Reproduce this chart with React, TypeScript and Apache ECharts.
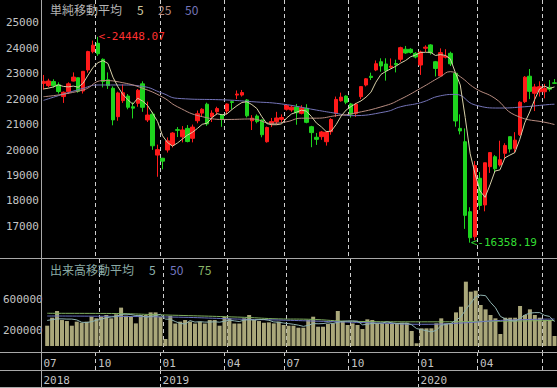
import React, { useEffect, useRef } from "react";
import * as echarts from "echarts";

// Weekly bars (dated by the week's last trading day)
const weekDates = (
  "2018-07-20 2018-07-27 2018-08-03 2018-08-10 2018-08-17 2018-08-24 2018-08-31 2018-09-07 2018-09-14 2018-09-21 " +
  "2018-09-28 2018-10-05 2018-10-12 2018-10-19 2018-10-26 2018-11-02 2018-11-09 2018-11-16 2018-11-22 2018-11-30 " +
  "2018-12-07 2018-12-14 2018-12-21 2018-12-28 2019-01-04 2019-01-11 2019-01-18 2019-01-25 2019-02-01 2019-02-08 " +
  "2019-02-15 2019-02-22 2019-03-01 2019-03-08 2019-03-15 2019-03-22 2019-03-29 2019-04-05 2019-04-12 2019-04-19 " +
  "2019-04-26 2019-05-10 2019-05-17 2019-05-24 2019-05-31 2019-06-07 2019-06-14 2019-06-21 2019-06-28 2019-07-05 " +
  "2019-07-12 2019-07-19 2019-07-26 2019-08-02 2019-08-09 2019-08-16 2019-08-23 2019-08-30 2019-09-06 2019-09-13 " +
  "2019-09-20 2019-09-27 2019-10-04 2019-10-11 2019-10-18 2019-10-25 2019-11-01 2019-11-08 2019-11-15 2019-11-22 " +
  "2019-11-29 2019-12-06 2019-12-13 2019-12-20 2019-12-27 2019-12-30 2020-01-10 2020-01-17 2020-01-24 2020-01-31 " +
  "2020-02-07 2020-02-14 2020-02-21 2020-02-28 2020-03-06 2020-03-13 2020-03-19 2020-03-27 2020-04-03 2020-04-10 " +
  "2020-04-17 2020-04-24 2020-05-01 2020-05-08 2020-05-15 2020-05-22 2020-05-29 2020-06-05 2020-06-12 2020-06-19 " +
  "2020-06-26 2020-07-03 2020-07-10 2020-07-17"
).split(" ");

const opens = [
  22620, 22530, 22690, 22560, 22100, 22290, 22710, 22840, 22320, 23145,
  23865, 24195, 23565, 22760, 22425, 21310, 21940, 22120, 21700, 21835,
  22600, 21180, 21410, 19800, 19675, 20000, 20195, 20800, 20520, 20850,
  20460, 21150, 21450, 21800, 21310, 21505, 21375, 21530, 21900, 22160,
  22160, 21965, 21150, 21335, 21180, 20325, 21050, 21110, 21205, 21600,
  21575, 21690, 21440, 21640, 20915, 20500, 20525, 20325, 20720, 21440,
  21935, 22120, 21810, 21440, 22095, 22555, 22900, 23145, 23470, 23380,
  23250, 23400, 23565, 23960, 23960, 23800, 23340, 24000, 24130, 23470,
  22910, 23650, 23800, 23015, 20850, 20325, 17575, 16590, 18890, 17840,
  19345, 19735, 19410, 19870, 20525, 20065, 20600, 21900, 22900, 22230,
  22290, 22290, 22465, 22640,
];
const closes = [
  22697, 22712, 22525, 22298, 22270, 22601, 22865, 22307, 23094, 23869,
  24120, 23783, 22694, 22532, 21184, 22243, 22250, 21680, 21646, 22351,
  21679, 21374, 20166, 20014, 19561, 20359, 20666, 20773, 20788, 20333,
  20900, 21425, 21602, 21025, 21450, 21627, 21205, 21807, 21870, 22200,
  22258, 21344, 21250, 21117, 20601, 20884, 21116, 21258, 21275, 21746,
  21685, 21466, 21658, 21087, 20684, 20418, 20710, 20704, 21199, 21988,
  22079, 21878, 21410, 21798, 22492, 22799, 22850, 23391, 23303, 23112,
  23293, 23354, 24023, 23816, 23837, 23656, 23850, 24041, 23827, 23205,
  23827, 23687, 23386, 21142, 20749, 17431, 16552, 19389, 17820, 19498,
  19897, 19262, 19619, 20179, 20037, 20388, 21877, 22863, 22305, 22478,
  22490, 22420, 22390, 22620,
];
const lows = [
  22380, 22470, 22450, 22220, 21851, 22200, 22690, 22250, 22220, 23040,
  23800, 23700, 22460, 22400, 20971, 21150, 21850, 21600, 21240, 21700,
  21500, 21100, 20006, 18948, 19241, 19900, 20100, 20510, 20300, 20300,
  20300, 21050, 21300, 20950, 21100, 21400, 20911, 21400, 21600, 22000,
  22100, 21280, 20785, 21050, 20500, 20289, 20900, 21000, 21100, 21550,
  21500, 20993, 21400, 21050, 20110, 20200, 20400, 20173, 20600, 21300,
  21900, 21800, 21276, 21300, 22000, 22500, 22750, 23100, 23078, 22726,
  23200, 23050, 23470, 23780, 23790, 23600, 22951, 23850, 23750, 22892,
  22890, 23600, 23300, 20916, 20613, 16900, 16358.19, 16450, 17646, 17590,
  19100, 19100, 19350, 19650, 19900, 19900, 20550, 21850, 22000, 21530,
  22100, 22030, 22300, 22600,
];
const highs = [
  22950, 22800, 22780, 22660, 22300, 22660, 23050, 22850, 23100, 23900,
  24300, 24448.07, 23600, 23050, 22500, 22290, 22583, 22200, 21870, 22400,
  22700, 21900, 21500, 20211, 19692, 20494, 20700, 20900, 20940, 20980,
  21000, 21550, 21640, 21860, 21560, 21700, 21400, 21830, 21950, 22340,
  22360, 22000, 21370, 21400, 21200, 20920, 21260, 21500, 21400, 21800,
  21750, 21810, 21760, 21800, 20950, 20670, 20750, 20750, 21250, 22100,
  22255, 22150, 21850, 21850, 22500, 22830, 23040, 23520, 23605, 23605,
  23600, 23550, 24060, 24090, 24000, 23850, 23905, 24115, 24160, 23500,
  23995, 23960, 23865, 23050, 21400, 20850, 17750, 19564, 19140, 19500,
  19922, 19800, 20365, 20265, 20525, 20700, 21916, 22907, 23185, 22600,
  22700, 22600, 22750, 22790,
];
const volumes = [
  262000, 365000, 452000, 335000, 322000, 262000, 314000, 301000, 314000, 378000,
  357000, 378000, 400000, 357000, 409000, 495000, 391000, 378000, 292000, 400000,
  400000, 434000, 434000, 378000, 90000, 387000, 290000, 314000, 335000, 314000,
  290000, 314000, 290000, 335000, 335000, 262000, 378000, 357000, 290000, 290000,
  357000, 400000, 335000, 322000, 300000, 305000, 292000, 314000, 271000, 262000,
  262000, 236000, 236000, 335000, 378000, 249000, 249000, 284000, 292000, 452000,
  314000, 271000, 292000, 271000, 219000, 344000, 335000, 292000, 292000, 292000,
  284000, 292000, 301000, 300000, 194000, 35000, 228000, 228000, 228000, 292000,
  357000, 292000, 292000, 434000, 507000, 830000, 701000, 714000, 529000, 473000,
  400000, 357000, 155000, 365000, 365000, 365000, 516000, 400000, 473000, 400000,
  365000, 335000, 335000, 129000,
];

// Moving averages
const ma5Head = [22400, 22430, 22480, 22560];
const ma25Read: [string, number][] = [
  ["2018-07-20", 22095], ["2018-09-14", 22360], ["2018-10-12", 22730], ["2018-11-09", 22645],
  ["2018-12-07", 22425], ["2019-01-04", 22080], ["2019-01-25", 21700], ["2019-03-01", 21310],
  ["2019-04-05", 21200], ["2019-05-17", 21220], ["2019-06-14", 21050], ["2019-07-05", 21110],
  ["2019-07-26", 21250], ["2019-08-16", 21250], ["2019-09-13", 21350], ["2019-10-04", 21420],
  ["2019-11-22", 21750], ["2019-12-13", 22000], ["2020-01-10", 22425], ["2020-02-07", 22880],
  ["2020-02-21", 23080], ["2020-03-06", 22880], ["2020-03-27", 22425], ["2020-04-24", 22030],
  ["2020-05-22", 21375], ["2020-07-10", 21050], ["2020-07-17", 21000],
];
const ma50Read: [string, number][] = [
  ["2018-07-20", 21950], ["2018-09-14", 22425], ["2018-10-05", 22555], ["2018-11-09", 22555],
  ["2018-12-07", 22500], ["2019-01-04", 22230], ["2019-01-25", 22030], ["2019-04-05", 21965],
  ["2019-05-17", 21900], ["2019-06-28", 21810], ["2019-08-16", 21570], ["2019-09-13", 21440],
  ["2019-10-04", 21350], ["2019-11-22", 21505], ["2019-12-13", 21700], ["2020-01-10", 21860],
  ["2020-02-07", 22130], ["2020-02-28", 22185], ["2020-03-27", 21770], ["2020-05-01", 21650],
  ["2020-06-05", 21700], ["2020-07-10", 21790], ["2020-07-17", 21800],
];
const volMa5Head = [330000, 340000, 350000, 350000];
const volMa50Read: [string, number][] = [
  ["2018-07-20", 387000], ["2019-01-04", 375000], ["2019-04-26", 345000], ["2019-06-21", 335000],
  ["2019-08-16", 320000], ["2019-11-15", 295000], ["2020-01-10", 280000], ["2020-03-13", 300000],
  ["2020-05-01", 330000], ["2020-07-17", 348000],
];
const volMa75Read: [string, number][] = [
  ["2018-07-20", 422000], ["2018-10-12", 420000], ["2019-01-04", 400000], ["2019-04-26", 370000],
  ["2019-06-21", 350000], ["2019-08-02", 345000], ["2019-10-04", 318000], ["2020-01-10", 312000],
  ["2020-04-17", 318000], ["2020-07-17", 330000],
];

const priceTicks = [17000, 18000, 19000, 20000, 21000, 22000, 23000, 24000, 25000];
const volumeTicks = [200000, 600000];

const MONO = "'DejaVu Sans Mono', monospace";
const CJK = "'Noto Sans CJK JP', sans-serif";

const monthOf = (i: number) => +weekDates[i].slice(5, 7);
const isQuarterStart = (i: number) =>
  i > 0 && monthOf(i) !== monthOf(i - 1) && [1, 4, 7, 10].includes(monthOf(i));
const isYearStart = (i: number) => i > 0 && weekDates[i].slice(0, 4) !== weekDates[i - 1].slice(0, 4);
// labels too close to the right edge are not drawn
const fitsLabel = (i: number) => i < weekDates.length - 4;

const movingAvg5 = (vals: number[], head: number[]) =>
  vals.map((_, i) => (i < 4 ? head[i] : Math.round(vals.slice(i - 4, i + 1).reduce((a, b) => a + b, 0) / 5)));

export default function App() {
  const ref = useRef<HTMLDivElement>(null);
  useEffect(() => {
    if (!ref.current) return;
    const chart = echarts.init(ref.current, undefined, { renderer: "svg" });

    const candles = weekDates.map((_, i) => [opens[i], closes[i], lows[i], highs[i]]);
    const ma5 = movingAvg5(closes, ma5Head);
    const volMa5 = movingAvg5(volumes, volMa5Head);
    let iHi = 0;
    let iLo = 0;
    highs.forEach((h, i) => { if (h > highs[iHi]) iHi = i; });
    lows.forEach((l, i) => { if (l < lows[iLo]) iLo = i; });

    const dash = { color: "#cfcfcf", type: [4, 3] as number[], width: 1 };
    const xBase = (gridIndex: number, splitFn: (i: number) => boolean) => ({
      type: "category",
      gridIndex,
      data: weekDates,
      boundaryGap: true,
      axisLine: { show: false },
      axisTick: { show: false },
      axisLabel: { show: false },
      splitLine: { show: true, interval: (i: number) => splitFn(i), lineStyle: dash },
    });
    const frame = "#a8a8a8";
    const hLine = (y: number) => ({
      type: "line", z: 100, shape: { x1: 0, y1: y, x2: 557, y2: y }, style: { stroke: frame, lineWidth: 1 },
    });
    const txt = (x: number, y: number, text: string, fill: string, font: string) => ({
      type: "text", x, y, z: 100, style: { text, fill, font, verticalAlign: "middle" },
    });

    chart.setOption({
      animation: false,
      backgroundColor: "#000",
      grid: [
        { left: 41, right: 0, top: 0, height: 258 },
        { left: 41, right: 0, top: 259, height: 93 },
        { left: 41, right: 0, top: 352, height: 18 },
        { left: 41, right: 0, top: 370, height: 17 },
      ],
      xAxis: [
        xBase(0, isQuarterStart),
        xBase(1, isQuarterStart),
        {
          ...xBase(2, isQuarterStart),
          position: "bottom",
          axisLabel: {
            show: true, inside: true, margin: 1,
            interval: (i: number) => (i === 0 || isQuarterStart(i)) && fitsLabel(i),
            formatter: (v: string) => v.slice(5, 7),
            align: "left", color: "#c4c4c4", fontFamily: MONO, fontSize: 11,
          },
        },
        {
          ...xBase(3, isYearStart),
          position: "bottom",
          axisLabel: {
            show: true, inside: true, margin: 1,
            interval: (i: number) => (i === 0 || isYearStart(i)) && fitsLabel(i),
            formatter: (v: string) => v.slice(0, 4),
            align: "left", color: "#c4c4c4", fontFamily: MONO, fontSize: 11,
          },
        },
      ],
      yAxis: [
        {
          type: "value", gridIndex: 0, min: 15755, max: 25896, scale: true,
          axisLine: { show: false }, axisTick: { show: false }, splitLine: { show: false },
          axisLabel: {
            customValues: priceTicks, formatter: (v: number) => String(v),
            color: "#c4c4c4", fontFamily: MONO, fontSize: 11, margin: 2,
          },
        },
        {
          type: "value", gridIndex: 1, min: -77400, max: 1122600,
          axisLine: { show: false }, axisTick: { show: false }, splitLine: { show: false },
          axisLabel: {
            customValues: volumeTicks, formatter: (v: number) => String(v),
            color: "#c4c4c4", fontFamily: MONO, fontSize: 11, margin: 2,
          },
        },
        { type: "value", gridIndex: 2, min: 0, max: 1, show: false },
        { type: "value", gridIndex: 3, min: 0, max: 1, show: false },
      ],
      series: [
        {
          type: "candlestick", xAxisIndex: 0, yAxisIndex: 0, data: candles, barWidth: 4,
          itemStyle: { color: "#ff1a1a", color0: "#1ed41e", borderColor: "#ff1a1a", borderColor0: "#1ed41e", borderWidth: 1 },
          markPoint: {
            symbol: "circle", symbolSize: 1, itemStyle: { color: "rgba(0,0,0,0)" },
            data: [
              {
                coord: [weekDates[iHi], highs[iHi]],
                label: { show: true, position: "right", distance: 0, formatter: "<-" + highs[iHi].toFixed(2), color: "#ff3030", fontFamily: MONO, fontSize: 11 },
              },
              {
                coord: [weekDates[iLo], lows[iLo]],
                label: { show: true, position: "right", distance: 0, formatter: "<-" + lows[iLo].toFixed(2), color: "#33dd33", fontFamily: MONO, fontSize: 11 },
              },
            ],
          },
        },
        { type: "line", xAxisIndex: 0, yAxisIndex: 0, data: ma50Read, smooth: true, symbol: "none", lineStyle: { color: "#7474b8", width: 1 } },
        { type: "line", xAxisIndex: 0, yAxisIndex: 0, data: ma25Read, smooth: true, symbol: "none", lineStyle: { color: "#b88c80", width: 1 } },
        { type: "line", xAxisIndex: 0, yAxisIndex: 0, data: ma5, symbol: "none", lineStyle: { color: "#d8d0a8", width: 1 } },
        { type: "bar", xAxisIndex: 1, yAxisIndex: 1, data: volumes, barWidth: 4, itemStyle: { color: "#aaa77a" } },
        { type: "line", xAxisIndex: 1, yAxisIndex: 1, data: volMa75Read, smooth: true, symbol: "none", lineStyle: { color: "#80b060", width: 1 } },
        { type: "line", xAxisIndex: 1, yAxisIndex: 1, data: volMa50Read, smooth: true, symbol: "none", lineStyle: { color: "#6a72c0", width: 1 } },
        { type: "line", xAxisIndex: 1, yAxisIndex: 1, data: volMa5, symbol: "none", lineStyle: { color: "#8fb3b0", width: 1 } },
      ],
      graphic: [
        { type: "line", z: 100, shape: { x1: 41.5, y1: 0, x2: 41.5, y2: 388 }, style: { stroke: frame, lineWidth: 1 } },
        hLine(258.5), hLine(352.5), hLine(370.5), hLine(387.5),
        txt(50, 9, "単純移動平均", "#b4b4b4", `12px ${CJK}`),
        txt(137, 9, "5", "#d0c8a0", `12px ${CJK}`),
        txt(158, 9, "25", "#b88c80", `12px ${CJK}`),
        txt(185, 9, "50", "#7474b8", `12px ${CJK}`),
        txt(50, 269, "出来高移動平均", "#8aaaa4", `12px ${CJK}`),
        txt(149, 269, "5", "#8fb3b0", `12px ${CJK}`),
        txt(170, 269, "50", "#7478c0", `12px ${CJK}`),
        txt(198, 269, "75", "#8ab468", `12px ${CJK}`),
      ],
    });
    return () => chart.dispose();
  }, []);
  return <div ref={ref} style={{ position: "absolute", left: 0, top: 0, width: 557, height: 388 }} />;
}
